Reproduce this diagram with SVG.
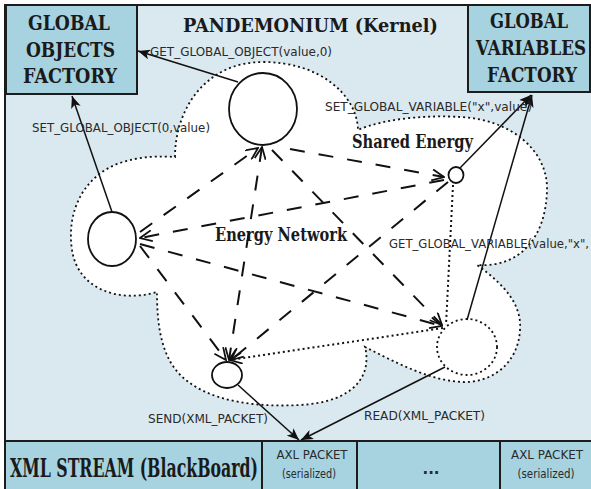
<svg xmlns="http://www.w3.org/2000/svg" width="591" height="489" viewBox="0 0 591 489">
  <style>
    .box { fill: #a7d3e0; stroke: #1c1c1c; stroke-width: 2; }
    .serif { font-family: "DejaVu Serif", "Liberation Serif", serif; font-weight: bold; fill: #1a1a1a; }
    .sans { font-family: "DejaVu Sans", "Liberation Sans", sans-serif; fill: #2a2a2a; }
    .node { fill: #ffffff; stroke: #111; stroke-width: 1.8; }
    .solid { fill: none; stroke: #111; stroke-width: 1.5; marker-end: url(#head); }
    .dash { fill: none; stroke: #111; stroke-width: 2; stroke-dasharray: 15 14; marker-end: url(#vee); }
    .dot { fill: none; stroke: #111; stroke-width: 2; stroke-dasharray: 2 3; }
  </style>
  <defs>
    <marker id="head" viewBox="0 0 12 10" refX="12" refY="5" markerWidth="12" markerHeight="10" markerUnits="userSpaceOnUse" orient="auto">
      <path d="M0,0 L12,5 L0,10 L3,5 Z" fill="#111"/>
    </marker>
    <marker id="vee" viewBox="0 0 14 12" refX="13" refY="6" markerWidth="14" markerHeight="12" markerUnits="userSpaceOnUse" orient="auto-start-reverse">
      <path d="M1,0.5 L13,6 L1,11.5" fill="none" stroke="#111" stroke-width="1.8"/>
    </marker>
    <clipPath id="frame"><rect x="0" y="0" width="591" height="489"/></clipPath>
  </defs>

  <!-- kernel panel -->
  <rect x="5" y="5" width="590" height="436" fill="#dae8ef" stroke="#1c1c1c" stroke-width="2"/>
  <text class="serif" x="183" y="32" font-size="19" textLength="255" lengthAdjust="spacingAndGlyphs">PANDEMONIUM (Kernel)</text>

  <!-- energy cloud -->
  <path id="cloud" d="M175,157 C175,110 205,62 263,62 C320,62 357,95 358,130
    C385,118 430,115 460,117 C510,119 548,150 547,190 C546,235 522,268 477,265
    C505,285 522,305 520,330 C518,365 490,383 463,382 C430,381 395,362 365,347
    C372,375 355,402 300,405 C245,408 185,398 167,355 C158,335 157,310 157,292
    C120,303 78,290 72,250 C66,210 85,175 120,163 C140,156 160,156 175,157 Z"
    fill="#ffffff" stroke="#111" stroke-width="1.8" stroke-dasharray="2 3"/>
  <text class="serif" x="352" y="148" font-size="18" textLength="121" lengthAdjust="spacingAndGlyphs">Shared Energy</text>
  <text class="serif" x="215" y="241" font-size="19" textLength="132" lengthAdjust="spacingAndGlyphs">Energy Network</text>

  <!-- factories -->
  <g id="global-objects-factory">
    <rect class="box" x="6" y="5" width="131" height="89"/>
    <text class="serif" x="28" y="30" font-size="20" textLength="82" lengthAdjust="spacingAndGlyphs">GLOBAL</text>
    <text class="serif" x="26" y="57" font-size="20" textLength="89" lengthAdjust="spacingAndGlyphs">OBJECTS</text>
    <text class="serif" x="23" y="83" font-size="20" textLength="94" lengthAdjust="spacingAndGlyphs">FACTORY</text>
  </g>
  <g id="global-variables-factory">
    <rect class="box" x="468" y="5" width="122" height="87"/>
    <!-- condensed lettering: smaller face stretched upward about its baseline -->
    <text class="serif" x="490" y="28" font-size="16.8" textLength="78" lengthAdjust="spacingAndGlyphs" transform="matrix(1,0,0,1.1905,0,-5.334)">GLOBAL</text>
    <text class="serif" x="476" y="55" font-size="16.8" textLength="110" lengthAdjust="spacingAndGlyphs" transform="matrix(1,0,0,1.1905,0,-10.478)">VARIABLES</text>
    <text class="serif" x="487" y="82" font-size="16.8" textLength="90" lengthAdjust="spacingAndGlyphs" transform="matrix(1,0,0,1.1905,0,-15.621)">FACTORY</text>
  </g>

  <!-- blackboard stream -->
  <g id="xml-stream">
    <rect class="box" x="5" y="441" width="590" height="50"/>
    <line x1="262" y1="441" x2="262" y2="489" stroke="#1c1c1c" stroke-width="2"/>
    <line x1="357" y1="441" x2="357" y2="489" stroke="#1c1c1c" stroke-width="2"/>
    <line x1="500" y1="441" x2="500" y2="489" stroke="#1c1c1c" stroke-width="2"/>
    <text class="serif" x="10" y="477" font-size="16" textLength="248" lengthAdjust="spacingAndGlyphs" transform="matrix(1,0,0,1.625,0,-298.125)">XML STREAM (BlackBoard)</text>
    <text class="sans" x="312" y="459" font-size="12.5" text-anchor="middle" textLength="71" lengthAdjust="spacingAndGlyphs">AXL PACKET</text>
    <text class="sans" x="309" y="478" font-size="12.5" text-anchor="middle" textLength="54" lengthAdjust="spacingAndGlyphs">(serialized)</text>
    <text class="sans" x="431" y="474" font-size="15" font-weight="bold" text-anchor="middle">...</text>
    <text class="sans" x="547" y="459" font-size="12.5" text-anchor="middle" textLength="72" lengthAdjust="spacingAndGlyphs">AXL PACKET</text>
    <text class="sans" x="546" y="478" font-size="12.5" text-anchor="middle" textLength="57" lengthAdjust="spacingAndGlyphs">(serialized)</text>
  </g>

  <!-- connectors -->
  <g id="connectors">
    <line class="solid" x1="238" y1="82" x2="138" y2="51"/>
    <line class="solid" x1="112" y1="212" x2="72" y2="96"/>
    <line class="solid" x1="460" y1="168" x2="531" y2="95"/>
    <line class="solid" x1="467" y1="320" x2="532" y2="95"/>
    <line class="solid" x1="238" y1="385" x2="299" y2="440"/>
    <line class="solid" x1="445" y1="367" x2="301" y2="440"/>

    <line class="dash" x1="140" y1="232" x2="258" y2="148"/>
    <line class="dash" x1="444" y1="180" x2="140" y2="238"/>
    <line class="dash" x1="140" y1="244" x2="442" y2="326"/>
    <line class="dash" x1="140" y1="246" x2="226" y2="360"/>
    <line class="dash" x1="262" y1="147" x2="229" y2="360" marker-start="url(#vee)"/>
    <line class="dash" x1="272" y1="150" x2="442" y2="325"/>
    <line class="dash" x1="290" y1="149" x2="444" y2="177"/>
    <line class="dash" x1="448" y1="182" x2="231" y2="360"/>

    <line class="dot" x1="453" y1="185" x2="446" y2="325"/>
    <line class="dot" x1="443" y1="328" x2="230" y2="360" marker-end="url(#vee)"/>
  </g>

  <!-- energy nodes -->
  <g id="node-top"><ellipse class="node" cx="263" cy="109" rx="34" ry="36"/></g>
  <g id="node-left"><ellipse class="node" cx="112" cy="239" rx="24" ry="27"/></g>
  <g id="node-shared"><ellipse class="node" cx="456" cy="175" rx="7.5" ry="8"/></g>
  <g id="node-bottom"><ellipse class="node" cx="227" cy="375" rx="15" ry="13"/></g>
  <g id="node-reader"><ellipse cx="467" cy="347" rx="30" ry="28" fill="none" stroke="#111" stroke-width="1.8" stroke-dasharray="2 3"/></g>

  <!-- call labels -->
  <text class="sans" x="150" y="56" font-size="12" textLength="182" lengthAdjust="spacingAndGlyphs">GET_GLOBAL_OBJECT(value,0)</text>
  <text class="sans" x="32" y="132" font-size="12" textLength="178" lengthAdjust="spacingAndGlyphs">SET_GLOBAL_OBJECT(0,value)</text>
  <text class="sans" x="325" y="111" font-size="12" textLength="207" lengthAdjust="spacingAndGlyphs">SET_GLOBAL_VARIABLE("x",value)</text>
  <text class="sans" x="389" y="248" font-size="11.5" textLength="200" lengthAdjust="spacingAndGlyphs" transform="matrix(1,0,0,1.0435,0,-10.78)" clip-path="url(#frame)">GET_GLOBAL_VARIABLE(value,"x",</text>
  <text class="sans" x="148" y="423" font-size="12" textLength="120" lengthAdjust="spacingAndGlyphs">SEND(XML_PACKET)</text>
  <text class="sans" x="364" y="420" font-size="12" textLength="121" lengthAdjust="spacingAndGlyphs">READ(XML_PACKET)</text>
</svg>
